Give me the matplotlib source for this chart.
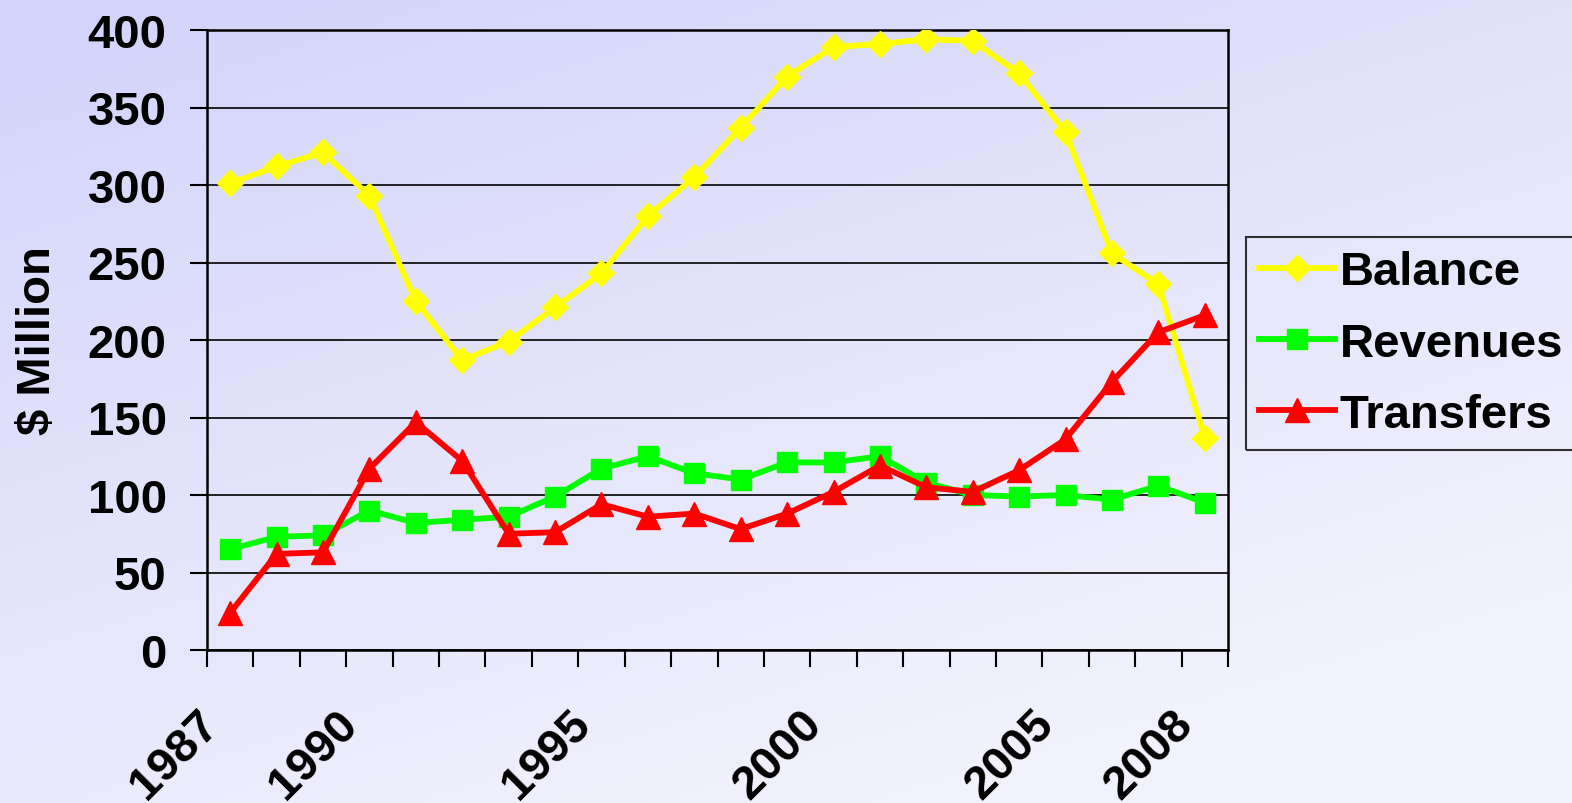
import numpy as np
import matplotlib
matplotlib.use("Agg")
import matplotlib.pyplot as plt
from matplotlib.transforms import ScaledTranslation

years = list(range(1987, 2009))
balance = [301, 312, 321, 293, 225, 187, 199, 221, 243, 280, 305, 337,
           370, 389, 391, 394, 393, 372, 334, 256, 236, 137]
revenues = [65, 73, 74, 90, 82, 84, 86, 99, 117, 125, 114, 110,
            121, 121, 125, 108, 100, 99, 100, 97, 106, 95]
transfers = [24, 62, 63, 117, 147, 122, 75, 76, 94, 86, 88, 78,
             88, 102, 119, 105, 102, 116, 136, 173, 205, 216]
shown_years = [1987, 1990, 1995, 2000, 2005, 2008]
y_ticks = [0, 50, 100, 150, 200, 250, 300, 350, 400]

plt.rcParams['font.family'] = ['Liberation Sans', 'DejaVu Sans']
plt.rcParams['font.weight'] = 'bold'

W, H = 1572, 804
fig = plt.figure(figsize=(W / 100, H / 100), dpi=100)

# gradient background
bg = fig.add_axes([0, 0, 1, 1], zorder=-10)
xx, yy = np.meshgrid(np.linspace(0, 1, 400), np.linspace(0, 1, 200))
t = np.clip(0.45 * xx + 0.75 * yy, 0, 1)
c0 = np.array([211, 211, 251]) / 255.0
c1 = np.array([242, 242, 253]) / 255.0
img = c0[None, None, :] * (1 - t[..., None]) + c1[None, None, :] * t[..., None]
bg.imshow(img, aspect='auto', extent=[0, 1, 1, 0])
bg.set_xlim(0, 1)
bg.set_ylim(1, 0)
bg.axis('off')

ax = fig.add_axes([207 / W, 1 - 651 / H, (1228 - 207) / W, (651 - 31) / H])
ax.patch.set_alpha(0)

x = np.arange(len(years))
ax.plot(x, balance, color='#FFFF00', lw=4.2, marker='D', ms=13,
        mec='#FFFF00', label='Balance', zorder=3)
ax.plot(x, revenues, color='#00FF00', lw=4.2, marker='s', ms=15,
        mec='#00FF00', label='Revenues', zorder=4)
ax.plot(x, transfers, color='#FF0000', lw=4.2, marker='^', ms=17,
        mec='#FF0000', label='Transfers', zorder=5)

ax.set_xlim(-0.5, len(years) - 0.5)
ax.set_ylim(0, 400)
ax.set_yticks(y_ticks)
ax.set_yticklabels([str(v) for v in y_ticks], fontsize=34, fontweight='bold')
ax.yaxis.grid(True, color='black', lw=1.2)
ax.set_axisbelow(True)

ax.set_xticks(np.arange(-0.5, len(years), 1.0))
ax.set_xticklabels([])
ax.set_xticks(x, minor=True)
ax.set_xticklabels([str(y) if y in shown_years else '' for y in years],
                   minor=True, fontsize=34, fontweight='bold')
ax.tick_params(axis='x', which='major', length=12, width=1.5, direction='out')
ax.tick_params(axis='x', which='minor', length=0, pad=48)
ax.tick_params(axis='y', length=12, width=1.5, direction='out', pad=17)
shift = ScaledTranslation(-0.18, 0, fig.dpi_scale_trans)
for lbl in ax.get_xticklabels(minor=True):
    lbl.set_rotation(45)
    lbl.set_ha('right')
    lbl.set_va('center')
    lbl.set_rotation_mode('anchor')
    lbl.set_transform(lbl.get_transform() + shift)

for s in ['left', 'bottom', 'right', 'top']:
    ax.spines[s].set_color('black')
    ax.spines[s].set_linewidth(1.8)

ax.set_ylabel('$ Million', fontsize=34, fontweight='bold', labelpad=20)

leg = ax.legend(loc='upper left', bbox_to_anchor=(1246 / W, 1 - 238 / H),
                bbox_transform=fig.transFigure, borderaxespad=0,
                fontsize=34, handlelength=1.6, handletextpad=0.1,
                borderpad=0.28, labelspacing=0.58, numpoints=1,
                frameon=True, fancybox=False)
leg.get_frame().set_edgecolor('black')
leg.get_frame().set_facecolor('none')
leg.get_frame().set_linewidth(1.5)
for txt in leg.get_texts():
    txt.set_fontweight('bold')

fig.savefig('out.png', dpi=100)
